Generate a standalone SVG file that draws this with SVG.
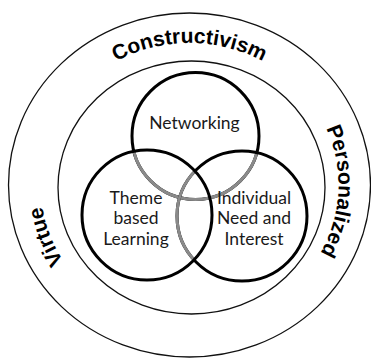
<svg xmlns="http://www.w3.org/2000/svg" width="371" height="359" viewBox="0 0 371 359">
<style>
.ring{fill:none;stroke:#111;stroke-width:1.3}
.venn{fill:none;stroke:#000;stroke-width:3}
.gray{fill:none;stroke:#8a8a8a;stroke-width:3}
.lbl{font-family:Lato,"Open Sans","Liberation Sans",sans-serif;font-size:17.5px;fill:#1a1a1a;text-anchor:middle}
.arc{font-family:"Liberation Sans",Arial,sans-serif;font-weight:bold;font-size:21px;fill:#000;text-anchor:middle}
</style>
<defs>
<path id="band" d="M40.5 185 A149 142 0 1 1 338.5 185 A149 142 0 1 1 40.5 185"/>
<clipPath id="inLR"><circle cx="147" cy="215" r="65"/><circle cx="242" cy="216" r="65"/></clipPath>
<clipPath id="inL"><circle cx="147" cy="215" r="65"/></clipPath>
</defs>
<rect width="371" height="359" fill="#fff"/>
<g id="outer-ring">
<ellipse class="ring" cx="189.5" cy="185" rx="181" ry="172"/>
<text class="arc"><textPath href="#band" startOffset="25%">Constructivism</textPath></text>
<text class="arc"><textPath href="#band" startOffset="50.7%">Personalized</textPath></text>
<text class="arc"><textPath href="#band" startOffset="94.4%">Virtue</textPath></text>
</g>
<g id="inner-ring">
<ellipse class="ring" cx="191.5" cy="187.5" rx="133.5" ry="126.5"/>
</g>
<g id="networking">
<circle class="venn" cx="195.5" cy="136" r="63.5"/>
<circle class="gray" cx="195.5" cy="136" r="63.5" clip-path="url(#inLR)"/>
<text class="lbl" x="194.5" y="128.5">Networking</text>
</g>
<g id="individual-need">
<circle class="venn" cx="242" cy="216" r="65"/>
<circle class="gray" cx="242" cy="216" r="65" clip-path="url(#inL)"/>
<text class="lbl" x="254" y="203.5">Individual</text>
<text class="lbl" x="254" y="224">Need and</text>
<text class="lbl" x="254" y="244.5">Interest</text>
</g>
<g id="theme-based">
<circle class="venn" cx="147" cy="215" r="65"/>
<text class="lbl" x="136" y="203.5">Theme</text>
<text class="lbl" x="136" y="224">based</text>
<text class="lbl" x="136" y="244.5">Learning</text>
</g>
</svg>
